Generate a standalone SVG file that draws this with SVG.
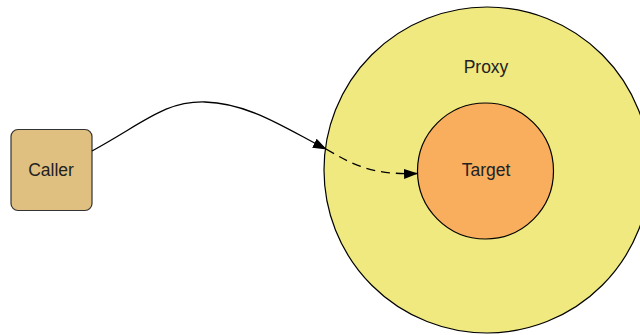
<svg xmlns="http://www.w3.org/2000/svg" width="640" height="335" viewBox="0 0 640 335">
<style>
.lbl{font-family:"Liberation Sans",Arial,sans-serif;font-size:17.5px;fill:#222;text-anchor:middle;dominant-baseline:central}
.edge{fill:none;stroke:#000;stroke-width:1.3}
</style>
<defs>
<marker id="ah" markerWidth="14" markerHeight="10" refX="13" refY="5" orient="auto" markerUnits="userSpaceOnUse">
<path d="M0,0 L14,5 L0,10 z" fill="#000"/>
</marker>
</defs>
<rect width="640" height="335" fill="#fff"/>
<g id="proxy">
<circle cx="487" cy="170" r="163" fill="#EFE97F" stroke="#000" stroke-width="1.2"/>
<text class="lbl" x="486" y="67">Proxy</text>
</g>
<g id="target">
<circle cx="485.5" cy="171" r="68" fill="#F9AE5E" stroke="#000" stroke-width="1.2"/>
<text class="lbl" x="486" y="170">Target</text>
</g>
<g id="caller">
<rect x="11" y="129.5" width="81" height="81" rx="7" fill="#E0C080" stroke="#333" stroke-width="1.2"/>
<text class="lbl" x="51" y="170">Caller</text>
</g>
<g id="connectors">
<path class="edge" d="M92,151 C145,122 165,101 205,102 C250,103 290,131 326,149" marker-end="url(#ah)"/>
<path class="edge" d="M326,149 C352,164 370,175 417,173.5" stroke-dasharray="9,6" marker-end="url(#ah)"/>
</g>
</svg>
